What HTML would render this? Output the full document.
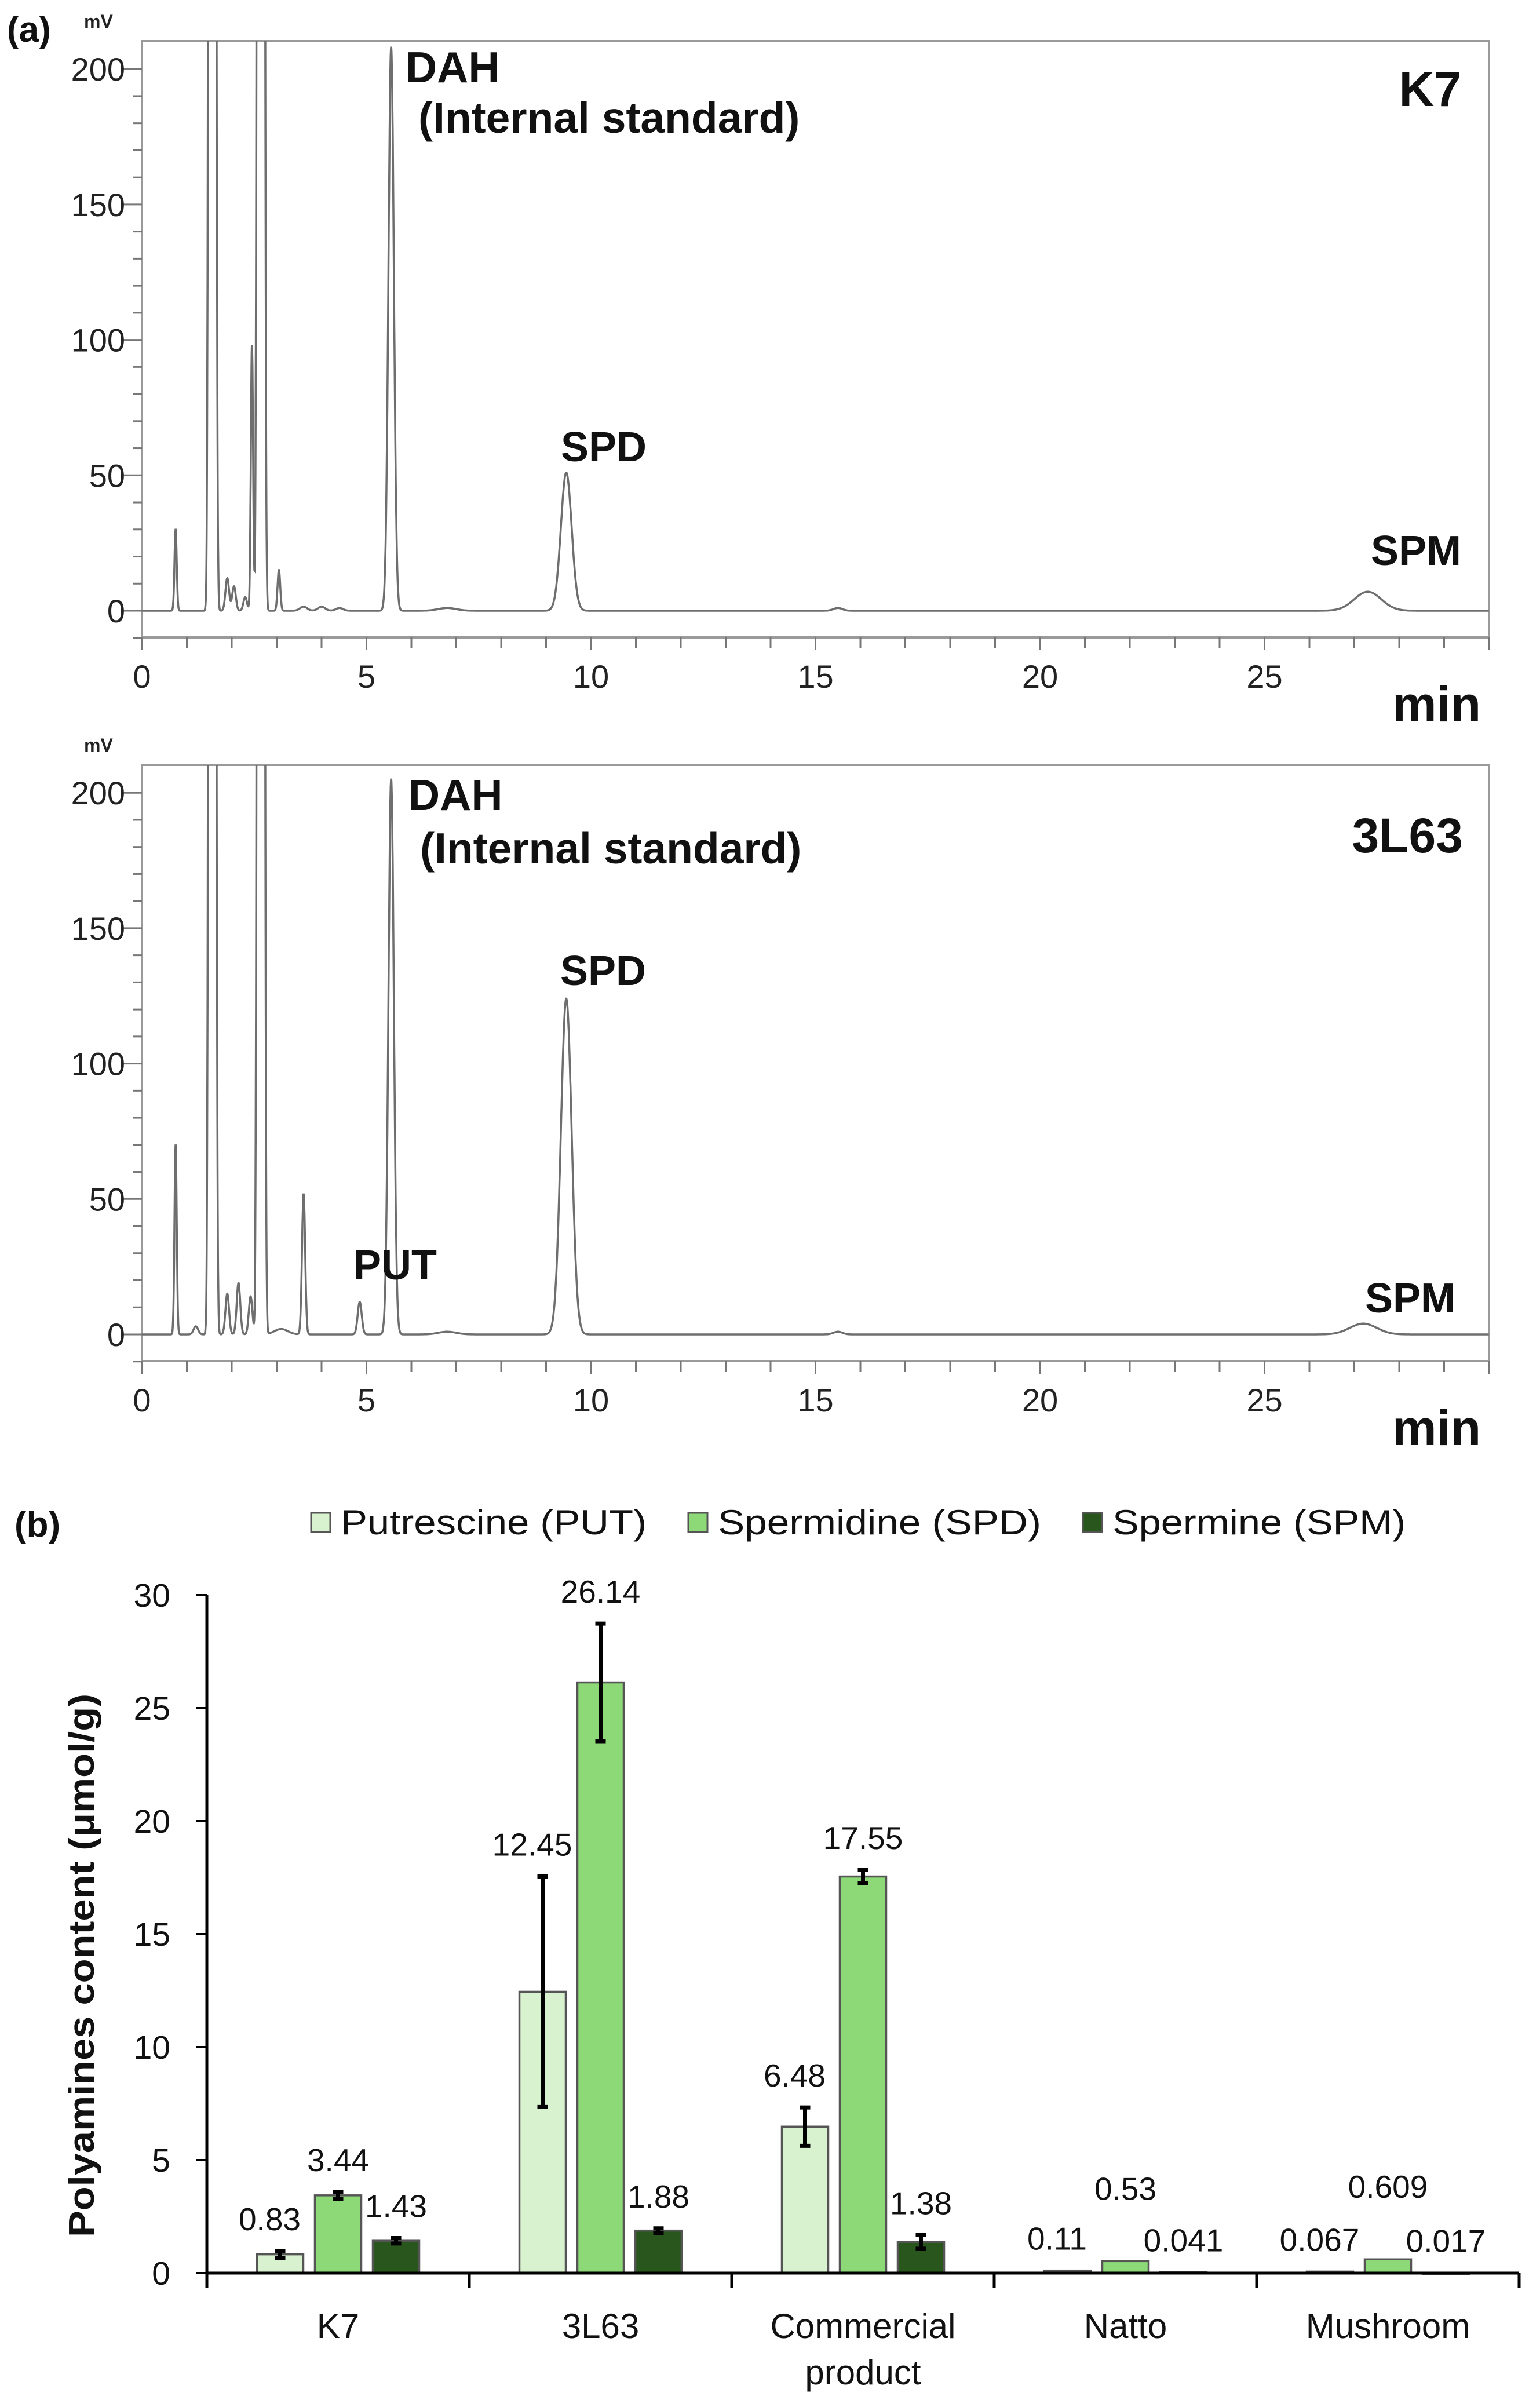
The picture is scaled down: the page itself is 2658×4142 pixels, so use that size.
<!DOCTYPE html>
<html><head><meta charset="utf-8"><style>
html,body{margin:0;padding:0;background:#fff}
svg{display:block}
text{font-family:"Liberation Sans",Arial,sans-serif}
</style></head><body>
<svg id="fig" width="2658" height="4142" viewBox="0 0 2658 4142" xmlns="http://www.w3.org/2000/svg">
<rect width="2658" height="4142" fill="#fff"/>
<defs>
<clipPath id="clipA"><rect x="245" y="71" width="2325" height="1029"/></clipPath>
<clipPath id="clipB"><rect x="245" y="1320" width="2325" height="1029"/></clipPath>
</defs>
<g id="panelA"></g>
<g id="panelB"></g>
<g id="bars"></g>
</svg>
<script>
// ---------- Chromatogram data (peaks: retention time min, height mV, width sigma min)
const peakTimesK7 = [0.75, 1.52, 1.62, 1.9, 2.05, 2.3, 2.45, 2.6, 2.7, 3.05, 3.6, 4.0, 4.4, 5.55, 6.8, 9.45, 15.5, 27.3];
const peakHeightsK7 = [30, 900, 600, 12, 9, 5, 98, 900, 700, 15, 1.5, 1.5, 1, 208, 1, 51, 1, 7];
const peakWidthsK7 = [0.025, 0.03, 0.03, 0.04, 0.04, 0.04, 0.025, 0.03, 0.03, 0.03, 0.08, 0.08, 0.08, 0.06, 0.2, 0.12, 0.1, 0.3];
const peakTimes3L63 = [0.75, 1.2, 1.52, 1.62, 1.9, 2.15, 2.42, 2.6, 2.7, 3.1, 3.6, 4.85, 5.55, 6.8, 9.45, 15.5, 27.2];
const peakHeights3L63 = [70, 3, 900, 600, 15, 19, 14, 900, 700, 2, 52, 12, 205, 1, 124, 1, 4];
const peakWidths3L63 = [0.025, 0.05, 0.03, 0.03, 0.04, 0.04, 0.04, 0.03, 0.03, 0.15, 0.035, 0.045, 0.06, 0.2, 0.12, 0.1, 0.3];
const xTicksMin = [0, 5, 10, 15, 20, 25];
const yTicksMV = [0, 50, 100, 150, 200];

// ---------- Bar chart data
const categories = ["K7", "3L63", "Commercial product", "Natto", "Mushroom"];
const seriesNames = ["Putrescine (PUT)", "Spermidine (SPD)", "Spermine (SPM)"];
const putValues = [0.83, 12.45, 6.48, 0.11, 0.067];
const spdValues = [3.44, 26.14, 17.55, 0.53, 0.609];
const spmValues = [1.43, 1.88, 1.38, 0.041, 0.017];
const putErrors = [0.15, 5.1, 0.85, 0, 0];
const spdErrors = [0.15, 2.6, 0.3, 0, 0];
const spmErrors = [0.12, 0.1, 0.3, 0, 0];
const putLabels = ["0.83", "12.45", "6.48", "0.11", "0.067"];
const spdLabels = ["3.44", "26.14", "17.55", "0.53", "0.609"];
const spmLabels = ["1.43", "1.88", "1.38", "0.041", "0.017"];
const barYTicks = [0, 5, 10, 15, 20, 25, 30];

const NS = "http://www.w3.org/2000/svg";
function mk(tag, attrs, parent, txt) {
  const e = document.createElementNS(NS, tag);
  for (const k in attrs) e.setAttribute(k, attrs[k]);
  if (txt !== undefined) e.textContent = txt;
  parent.appendChild(e);
  return e;
}

function drawChrom(g, dy, times, heights, widths, clip, labels) {
  const left = 245, right = 2570, top = 71 + dy, bottom = 1100 + dy, y0 = 1054 + dy;
  const xs = t => left + t * 77.5;
  const ys = v => y0 - v * 233.7 / 50;
  const frame = mk('rect', {x: left, y: top, width: right - left, height: bottom - top, fill: 'none', stroke: '#9a9a9a', 'stroke-width': 4}, g);
  
  
  for (let v = -10; v <= 200; v += 10) {
    const major = v % 50 === 0;
    const t = mk('line', {x1: left - (major ? 36 : 16), x2: left, y1: ys(v), y2: ys(v), stroke: '#777', 'stroke-width': 3}, g);
    
    
  }
  yTicksMV.forEach(v => {
    const t = mk('text', {x: 216, y: ys(v) + 20, 'text-anchor': 'end', 'font-size': 56, fill: '#222'}, g, String(v));
    
    
  });
  for (let m = 0; m <= 30; m++) {
    const t = mk('line', {x1: xs(m), x2: xs(m), y1: bottom, y2: bottom + (m % 5 === 0 ? 22 : 18), stroke: '#777', 'stroke-width': 3}, g);
    
    
  }
  xTicksMin.forEach(m => {
    const t = mk('text', {x: xs(m), y: bottom + 87, 'text-anchor': 'middle', 'font-size': 56, fill: '#222'}, g, String(m));
    
    
  });
  let d = '';
  for (let t = 0; t <= 30; t += 0.004) {
    let v = 0;
    for (let i = 0; i < times.length; i++) {
      const z = (t - times[i]) / widths[i];
      if (Math.abs(z) < 8) v += heights[i] * Math.exp(-0.5 * z * z);
    }
    d += (d ? 'L' : 'M') + xs(t).toFixed(1) + ',' + ys(Math.min(v, 260)).toFixed(1);
  }
  const tr = mk('path', {d: d, fill: 'none', stroke: '#6e6e6e', 'stroke-width': 3.5, 'clip-path': 'url(#' + clip + ')'}, g);
  
  
  labels.forEach(l => {
    const t = mk('text', {x: l[1], y: l[2] + dy, 'text-anchor': l[4] || 'start', 'font-size': l[3], 'font-weight': 'bold', fill: '#111'}, g, l[0]);
    
    
  });
  const mv = mk('text', {x: 145, y: 48 + dy, 'font-size': 32, 'font-weight': 'bold', fill: '#222'}, g, 'mV');
  
  
  const mn = mk('text', {x: 2556, y: 1245 + dy, 'text-anchor': 'end', 'font-size': 86, 'font-weight': 'bold', fill: '#111'}, g, 'min');
  
  
}

const gA = document.getElementById('panelA');
drawChrom(gA, 0, peakTimesK7, peakHeightsK7, peakWidthsK7, 'clipA', [
  ['DAH', 700, 142, 75, 'start', 'dah-label'],
  ['(Internal standard)', 722, 229, 75, 'start', 'internal-standard-label'],
  ['K7', 2522, 183, 84, 'end', 'sample-label-k7'],
  ['SPD', 968, 796, 72, 'start', 'spd-peak-label'],
  ['SPM', 2522, 975, 72, 'end', 'spm-peak-label']
]);
const pa = mk('text', {x: 12, y: 72, 'font-size': 62, 'font-weight': 'bold', fill: '#111'}, gA, '(a)');



const gB = document.getElementById('panelB');
drawChrom(gB, 1249, peakTimes3L63, peakHeights3L63, peakWidths3L63, 'clipB', [
  ['DAH', 705, 149, 75, 'start', 'dah-label'],
  ['(Internal standard)', 725, 241, 75, 'start', 'internal-standard-label'],
  ['3L63', 2525, 222, 84, 'end', 'sample-label-3l63'],
  ['SPD', 967, 451, 72, 'start', 'spd-peak-label'],
  ['PUT', 610, 959, 72, 'start', 'put-peak-label'],
  ['SPM', 2512, 1016, 72, 'end', 'spm-peak-label']
]);

// ---------- Bar chart
const gC = document.getElementById('bars');
const axX = 357, y0b = 3923, catW = 453;
const yb = v => y0b - v * 39;
const catCenter = i => axX + catW * (i + 0.5);
const colors = ['#d8f2cf', '#8dd977', '#28561c'];
const vals = [putValues, spdValues, spmValues];
const errs = [putErrors, spdErrors, spmErrors];
const labs = [putLabels, spdLabels, spmLabels];

const pb = mk('text', {x: 25, y: 2652, 'font-size': 62, 'font-weight': 'bold', fill: '#111'}, gC, '(b)');



const legX = [537, 1188, 1869], legTW = [528, 558, 506];
seriesNames.forEach((n, i) => {
  const sw = mk('rect', {x: legX[i], y: 2611, width: 33, height: 33, fill: colors[i], stroke: '#555', 'stroke-width': 3}, gC);
  
  
  const t = mk('text', {x: legX[i] + 51, y: 2648, 'font-size': 60, fill: '#111', textLength: legTW[i], lengthAdjust: 'spacingAndGlyphs'}, gC, n);
  
  
});

const yax = mk('line', {x1: axX, x2: axX, y1: yb(30), y2: y0b, stroke: '#000', 'stroke-width': 5}, gC);


barYTicks.forEach(v => {
  const tk = mk('line', {x1: axX - 18, x2: axX, y1: yb(v), y2: yb(v), stroke: '#000', 'stroke-width': 4}, gC);
  
  
  const t = mk('text', {x: 294, y: yb(v) + 20, 'text-anchor': 'end', 'font-size': 57, fill: '#111'}, gC, String(v));
  
  
});
const yt = mk('text', {x: 0, y: 0, transform: 'translate(162,3392) rotate(-90)', 'text-anchor': 'middle', 'font-size': 62, 'font-weight': 'bold', fill: '#111', textLength: 938, lengthAdjust: 'spacingAndGlyphs'}, gC, 'Polyamines  content (μmol/g)');



categories.forEach((c, i) => {
  for (let s = 0; s < 3; s++) {
    const cx = catCenter(i) + (s - 1) * 100;
    const v = vals[s][i], e = errs[s][i];
    const b = mk('rect', {x: cx - 40, y: yb(v), width: 80, height: Math.max(y0b - yb(v), 2), fill: colors[s], stroke: '#555', 'stroke-width': 3.5}, gC);
    
    
    if (e > 0) {
      const eb = mk('path', {d: 'M' + cx + ',' + yb(v + e) + 'V' + yb(v - e) + 'M' + (cx - 9) + ',' + yb(v + e) + 'h18M' + (cx - 9) + ',' + yb(v - e) + 'h18', stroke: '#000', 'stroke-width': 7, fill: 'none'}, gC);
      
      
    }
    let ly = yb(v + e) - 36;
    if (s === 1 && v < 1) ly -= 70;
    const lx = s === 0 ? cx - 18 : cx;
    const t = mk('text', {x: lx, y: ly, 'text-anchor': 'middle', 'font-size': 55, fill: '#111'}, gC, labs[s][i]);
    
    
  }
  const words = c === 'Commercial product' ? ['Commercial', 'product'] : [c];
  words.forEach((w, k) => {
    const t = mk('text', {x: catCenter(i), y: 4035 + k * 80, 'text-anchor': 'middle', 'font-size': 60, fill: '#111'}, gC, w);
    
    
  });
});
const xax = mk('line', {x1: axX, x2: axX + catW * categories.length, y1: y0b, y2: y0b, stroke: '#000', 'stroke-width': 5}, gC);


for (let i = 0; i <= categories.length; i++) {
  const tk = mk('line', {x1: axX + catW * i, x2: axX + catW * i, y1: y0b, y2: y0b + 26, stroke: '#000', 'stroke-width': 5}, gC);
  
  
}
</script>
</body></html>
